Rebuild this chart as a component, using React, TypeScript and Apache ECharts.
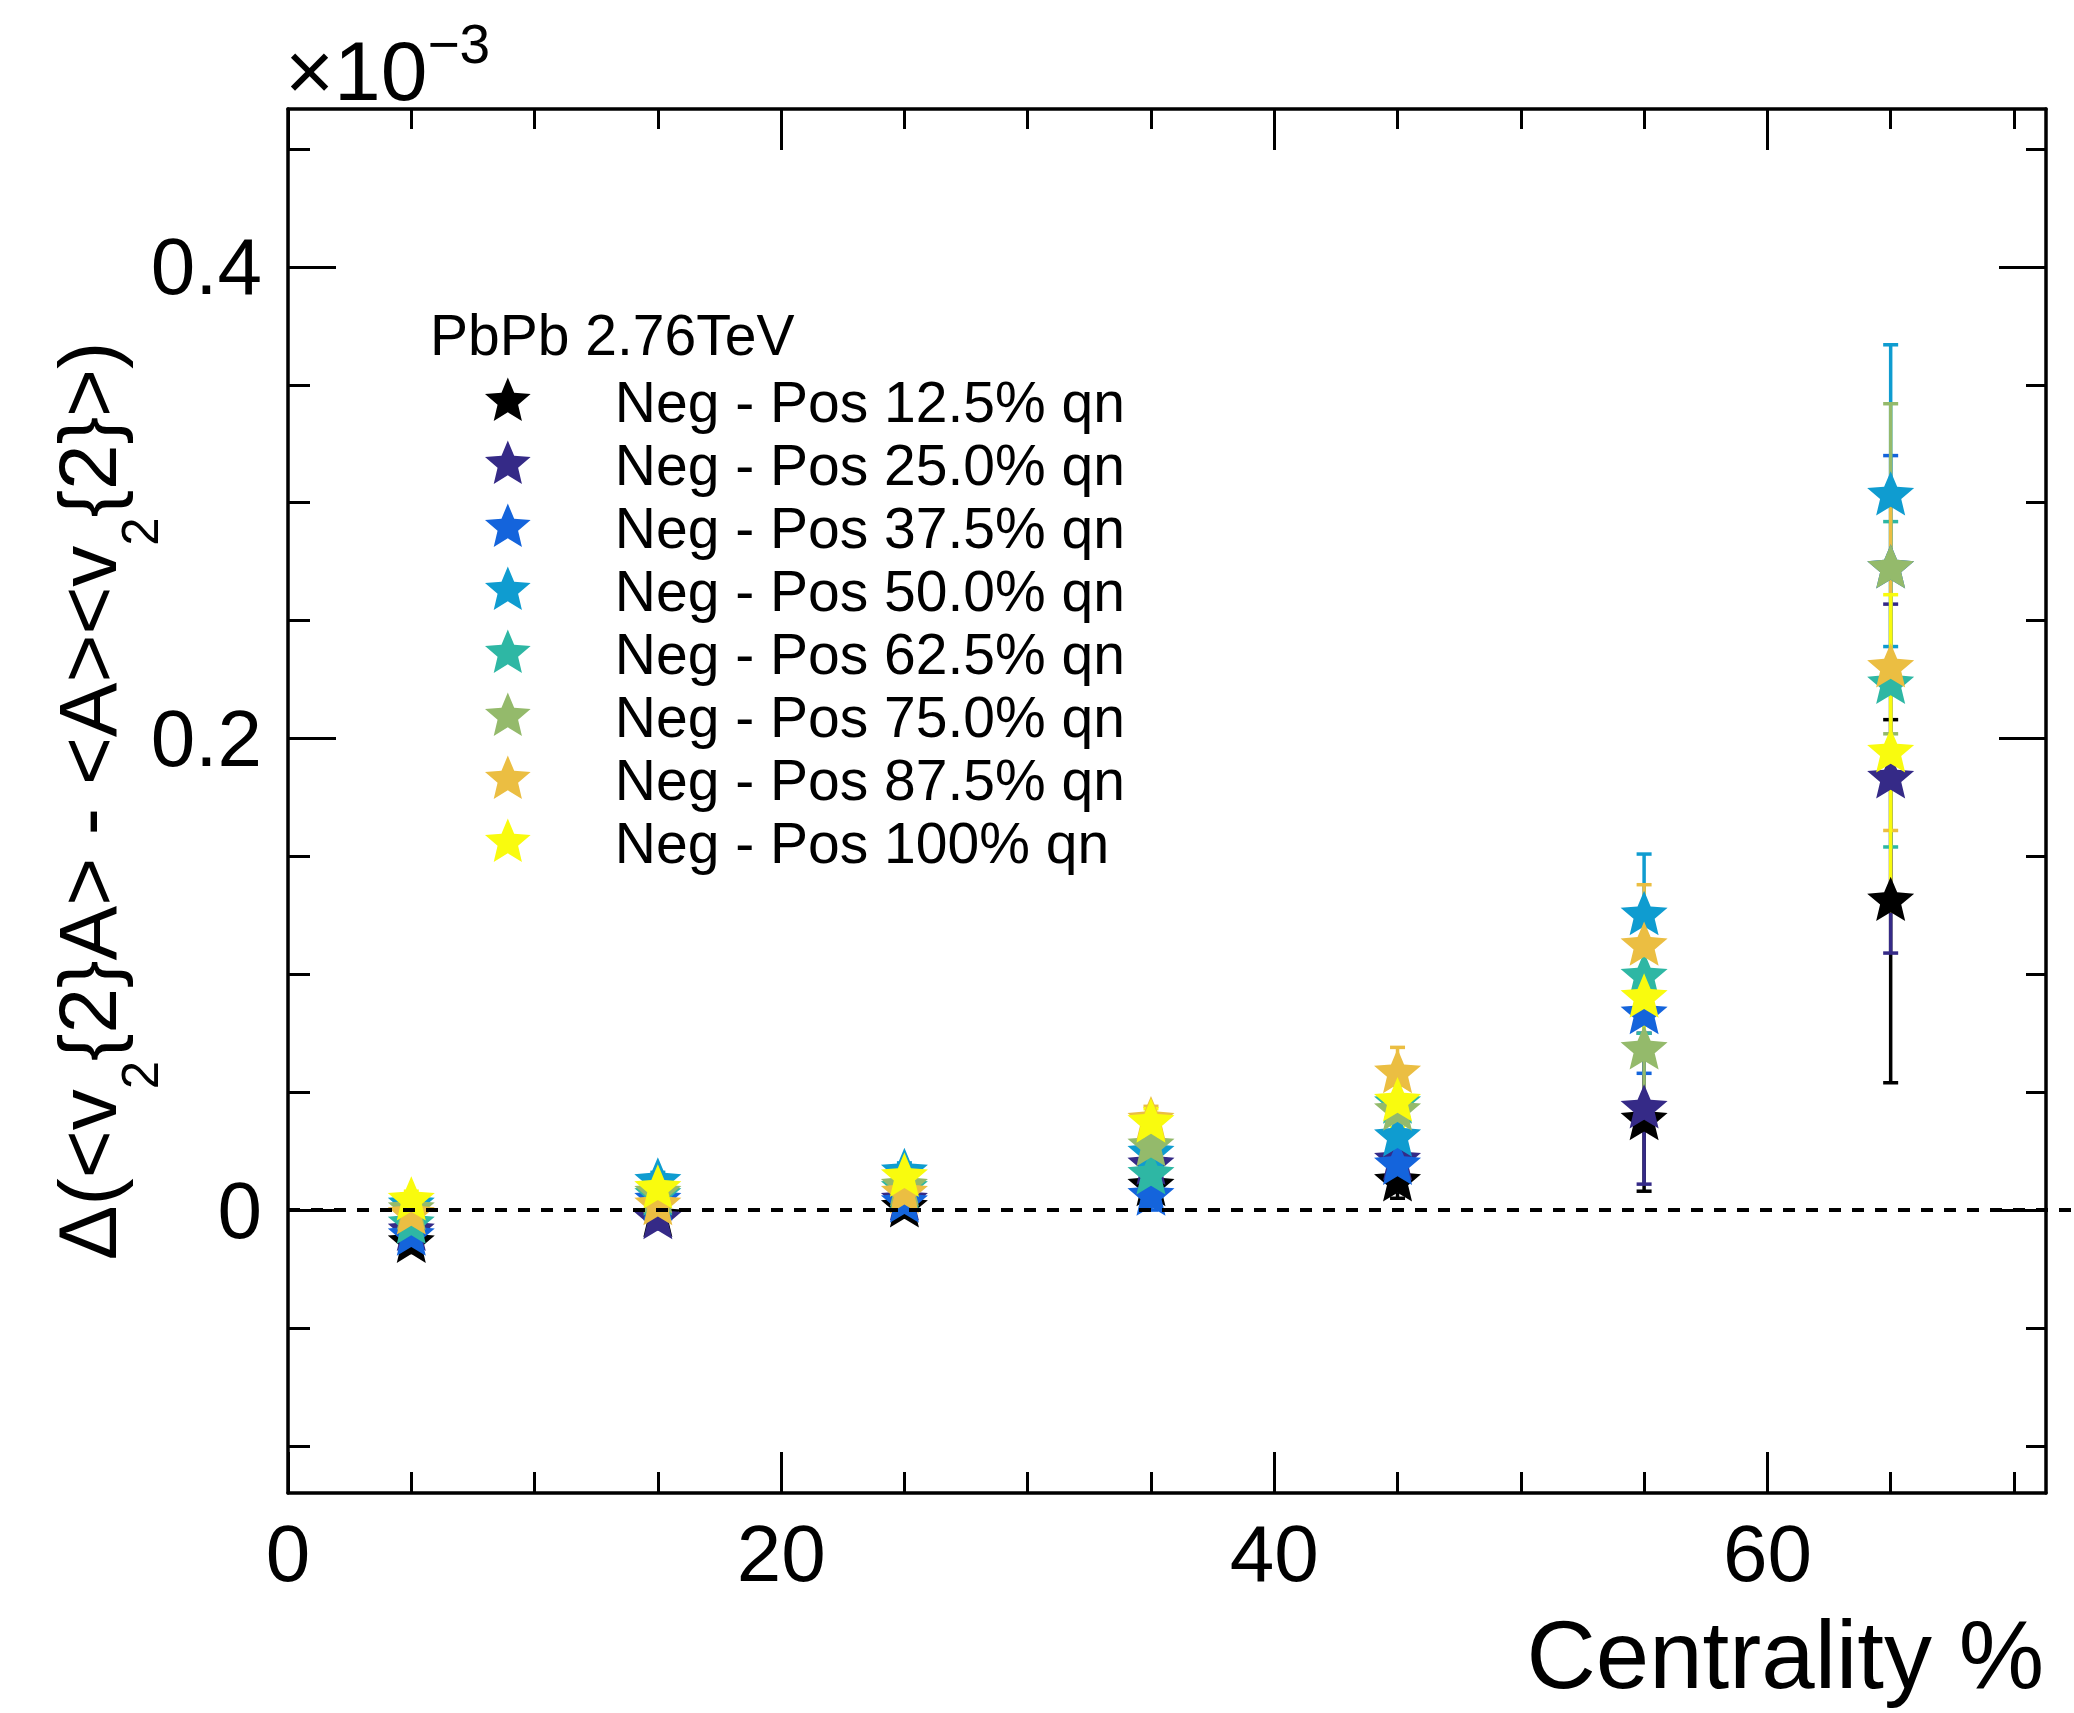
import React, { useEffect, useRef } from 'react';
import * as echarts from 'echarts';

// ---------------- data (values in units of 10^-3) ----------------
const centrality = [5, 15, 25, 35, 45, 55, 65];

const seriesNames = [
  'Neg - Pos 12.5% qn',
  'Neg - Pos 25.0% qn',
  'Neg - Pos 37.5% qn',
  'Neg - Pos 50.0% qn',
  'Neg - Pos 62.5% qn',
  'Neg - Pos 75.0% qn',
  'Neg - Pos 87.5% qn',
  'Neg - Pos 100% qn',
];

const seriesColors = ['#000000', '#352a87', '#1464dc', '#0f9cd0', '#2eb7a4', '#94ba6b', '#ebbe42', '#f9fb0e'];

const val125 = [-0.014, -0.003, 0.001, 0.010, 0.012, 0.038, 0.131];
const err125 = [0.004, 0.004, 0.004, 0.006, 0.007, 0.030, 0.077];
const val250 = [-0.009, -0.004, 0.004, 0.019, 0.021, 0.043, 0.183];
const err250 = [0.004, 0.004, 0.004, 0.006, 0.011, 0.032, 0.074];
const val375 = [-0.011, 0.004, 0.003, 0.006, 0.019, 0.083, 0.272];
const err375 = [0.004, 0.004, 0.004, 0.006, 0.011, 0.025, 0.048];
const val500 = [0.002, 0.012, 0.016, 0.024, 0.031, 0.125, 0.303];
const err500 = [0.004, 0.004, 0.004, 0.006, 0.011, 0.026, 0.064];
const val625 = [-0.006, 0.006, 0.009, 0.015, 0.045, 0.099, 0.223];
const err625 = [0.004, 0.004, 0.004, 0.006, 0.011, 0.024, 0.069];
const val750 = [0.000, 0.007, 0.010, 0.027, 0.042, 0.068, 0.272];
const err750 = [0.004, 0.004, 0.004, 0.006, 0.011, 0.023, 0.070];
const val875 = [-0.002, 0.002, 0.007, 0.038, 0.058, 0.112, 0.230];
const err875 = [0.004, 0.004, 0.004, 0.006, 0.011, 0.026, 0.069];
const val1000 = [0.004, 0.009, 0.014, 0.037, 0.046, 0.090, 0.194];
const err1000 = [0.004, 0.004, 0.004, 0.006, 0.011, 0.023, 0.067];

const allValues = [val125, val250, val375, val500, val625, val750, val875, val1000];
const allErrors = [err125, err250, err375, err500, err625, err750, err875, err1000];

const xMajorTicks = [0, 20, 40, 60];
const xMinorTicks = [5, 10, 15, 25, 30, 35, 45, 50, 55, 65, 70];
const yMajorTicks = [0, 0.2, 0.4];
const yMinorTicks = [-0.1, -0.05, 0.05, 0.1, 0.15, 0.25, 0.3, 0.35, 0.45];

const X_MIN = 0;
const X_MAX = 71.3;
const Y_MIN = -0.12;
const Y_MAX = 0.467;

const STAR =
  'path://M50,100M50,0L63.23,31.8L97.55,34.55L71.4,56.95L79.39,90.45L50,72.5L20.61,90.45L28.6,56.95L2.45,34.55L36.77,31.8Z';

const FONT = 'Liberation Sans';

function xAxisDef(position: 'top' | 'bottom', ticks: number[], len: number, main: boolean, labels: boolean) {
  const a: any = {
    type: 'value',
    gridIndex: 0,
    position,
    min: X_MIN,
    max: X_MAX,
    axisLine: { show: main, onZero: false, lineStyle: { color: '#000', width: 3.5 } },
    axisTick: { show: true, inside: true, length: len, customValues: ticks, lineStyle: { color: '#000', width: 3 } },
    axisLabel: labels
      ? { show: true, customValues: xMajorTicks, fontSize: 80, lineHeight: 80, margin: 20, color: '#000', fontFamily: FONT }
      : { show: false },
    splitLine: { show: false },
    minorTick: { show: false },
  };
  return a;
}

function yAxisDef(position: 'left' | 'right', ticks: number[], len: number, main: boolean, labels: boolean) {
  const a: any = {
    type: 'value',
    gridIndex: 0,
    position,
    min: Y_MIN,
    max: Y_MAX,
    axisLine: { show: main, onZero: false, lineStyle: { color: '#000', width: 3.5 } },
    axisTick: { show: true, inside: true, length: len, customValues: ticks, lineStyle: { color: '#000', width: 3 } },
    axisLabel: labels
      ? {
          show: true,
          customValues: yMajorTicks,
          fontSize: 80,
          margin: 26,
          color: '#000',
          fontFamily: FONT,
          formatter: (v: number) => String(+v.toFixed(2)),
        }
      : { show: false },
    splitLine: { show: false },
    minorTick: { show: false },
  };
  return a;
}

function buildOption() {
  const xAxes = [
    xAxisDef('bottom', xMajorTicks, 41, true, true),
    xAxisDef('bottom', xMinorTicks, 21, false, false),
    xAxisDef('top', xMajorTicks, 41, true, false),
    xAxisDef('top', xMinorTicks, 20, false, false),
  ];
  xAxes[0].name = 'Centrality %';
  xAxes[0].nameLocation = 'end';
  xAxes[0].nameGap = -2;
  xAxes[0].nameMoveOverlap = false;
  xAxes[0].nameTextStyle = {
    fontSize: 96,
    lineHeight: 96,
    align: 'right',
    verticalAlign: 'top',
    padding: [113, 0, 0, 0],
    color: '#000',
    fontFamily: FONT,
  };

  const yAxes = [
    yAxisDef('left', yMajorTicks, 48, true, true),
    yAxisDef('left', yMinorTicks, 22, false, false),
    yAxisDef('right', yMajorTicks, 47, true, false),
    yAxisDef('right', yMinorTicks, 20, false, false),
  ];
  yAxes[0].name = 'Δ(<v{s|2}{2}A> - <A><v{s|2}{2}>)';
  yAxes[0].nameLocation = 'middle';
  yAxes[0].nameRotate = 90;
  yAxes[0].nameGap = 122;
  yAxes[0].nameMoveOverlap = false;
  yAxes[0].nameTextStyle = {
    fontSize: 82,
    lineHeight: 158,
    color: '#000',
    fontFamily: FONT,
    rich: {
      s: { fontSize: 51, verticalAlign: 'bottom', color: '#000', fontFamily: FONT },
    },
  };

  const series: any[] = [];
  seriesNames.forEach((name, i) => {
    const color = seriesColors[i];
    const vals = allValues[i];
    const errs = allErrors[i];
    series.push({
      name: name + ' (err)',
      type: 'custom',
      xAxisIndex: 0,
      yAxisIndex: 0,
      encode: { x: 0, y: 1 },
      data: centrality.map((c, k) => [c, vals[k], errs[k]]),
      renderItem: (params: any, api: any) => {
        const x = api.value(0);
        const y = api.value(1);
        const e = api.value(2);
        const top = api.coord([x, y + e]);
        const bot = api.coord([x, y - e]);
        const hw = 7.5;
        const style = { stroke: color, lineWidth: 3.5 };
        return {
          type: 'group',
          children: [
            { type: 'line', shape: { x1: top[0], y1: top[1], x2: bot[0], y2: bot[1] }, style },
            { type: 'line', shape: { x1: top[0] - hw, y1: top[1], x2: top[0] + hw, y2: top[1] }, style },
            { type: 'line', shape: { x1: bot[0] - hw, y1: bot[1], x2: bot[0] + hw, y2: bot[1] }, style },
          ],
        };
      },
    });
    series.push({
      name,
      type: 'scatter',
      xAxisIndex: 0,
      yAxisIndex: 0,
      symbol: STAR,
      symbolSize: [47, 49],
      itemStyle: { color, opacity: 1 },
      emphasis: { disabled: true },
      data: centrality.map((c, k) => [c, vals[k]]),
    });
  });

  return {
    animation: false,
    backgroundColor: '#ffffff',
    textStyle: { fontFamily: FONT },
    grid: { left: 287, top: 109, width: 1759, height: 1384, containLabel: false },
    title: [
      {
        text: '×10{s|−3}',
        left: 285,
        top: 16,
        padding: 0,
        textStyle: {
          fontSize: 84,
          lineHeight: 110,
          fontWeight: 'normal',
          color: '#000',
          fontFamily: FONT,
          rich: { s: { fontSize: 55, verticalAlign: 'top', color: '#000', fontFamily: FONT } },
        },
      },
      {
        text: 'PbPb 2.76TeV',
        left: 430,
        top: 307,
        padding: 0,
        textStyle: { fontSize: 57, lineHeight: 56, fontWeight: 'normal', color: '#000', fontFamily: FONT },
      },
    ],
    legend: {
      orient: 'vertical',
      left: 485,
      top: 373,
      padding: 0,
      itemGap: 6.0,
      itemWidth: 46,
      itemHeight: 48,
      selectedMode: false,
      icon: STAR,
      data: seriesNames,
      textStyle: { fontSize: 57, lineHeight: 56, color: '#000', fontFamily: FONT, padding: [0, 0, 0, 79] },
    },
    xAxis: xAxes,
    yAxis: yAxes,
    series,
  };
}

export default function App() {
  const ref = useRef<HTMLDivElement>(null);
  useEffect(() => {
    if (!ref.current) return;
    const chart = echarts.init(ref.current, null, { renderer: 'svg' });
    chart.setOption(buildOption() as any);
    const p = chart.convertToPixel({ xAxisIndex: 0, yAxisIndex: 0 } as any, [0, 0]) as number[];
    if (p && isFinite(p[0]) && isFinite(p[1])) {
      chart.setOption({
        graphic: [
          {
            type: 'line',
            z: 100,
            silent: true,
            shape: { x1: p[0], y1: p[1], x2: 2074, y2: p[1] },
            style: { stroke: '#000', lineWidth: 4, lineDash: [12, 11] },
          },
        ],
      });
    }
    return () => chart.dispose();
  }, []);
  return (
    <div
      ref={ref}
      style={{ position: 'absolute', left: 0, top: 0, width: 2074, height: 1713, background: '#fff' }}
    />
  );
}
